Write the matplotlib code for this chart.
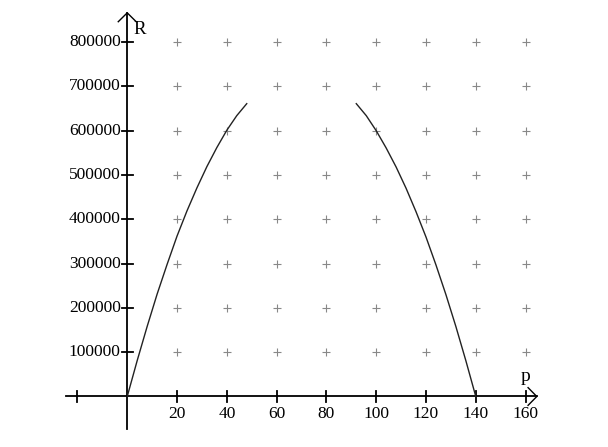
import numpy as np
import matplotlib
matplotlib.use("Agg")
import matplotlib.pyplot as plt

# curve R(p) (two visible branches)
p_left = [0, 4, 8, 12, 16, 20, 24, 28, 32, 36, 40, 44, 48]
R_left = [0, 81000, 158000, 231000, 298000, 362000, 419000, 471000,
          519000, 562000, 601000, 634000, 661000]
p_right = [92, 96, 100, 104, 108, 112, 116, 120, 124, 128, 132, 136, 140]
R_right = [661000, 634000, 600000, 561000, 518000, 470000, 417000, 360000,
           297000, 230000, 158000, 81000, 0]

x_ticks = [20, 40, 60, 80, 100, 120, 140, 160]
y_ticks = [100000, 200000, 300000, 400000, 500000, 600000, 700000, 800000]

serif = "Liberation Serif"

fig = plt.figure(figsize=(6.08, 4.47), dpi=100)
ax = fig.add_axes([0, 0, 1, 1])
ax.set_xlim(-51.1, 193.1)
ax.set_ylim(-114000, 895000)
ax.axis("off")

# grid of "+" marks
gx, gy = np.meshgrid(x_ticks, y_ticks)
ax.plot(gx.ravel(), gy.ravel(), linestyle="none", marker="+",
        markersize=5.5, markeredgewidth=0.8, color="#888888")

# axes with open arrowheads
ax.plot([-24.5, 164.5], [0, 0], color="black", lw=1.3)
ax.plot([0, 0], [-74000, 866000], color="black", lw=1.3)
ax.plot([161, 164.5, 161], [-20000, 0, 20000], color="black", lw=1.0)
ax.plot([-3.6, 0, 3.6], [846000, 866000, 846000], color="black", lw=1.0)

# ticks crossing the axes
for x in [-20] + x_ticks:
    ax.plot([x, x], [-12000, 12000], color="black", lw=1.3)
for x in x_ticks:
    ax.text(x, -22000, str(x), ha="center", va="top", fontsize=12.5,
            family=serif)
for y in y_ticks:
    ax.plot([-2.2, 2.2], [y, y], color="black", lw=1.3)
    ax.text(-2.6, y, str(y), ha="right", va="center", fontsize=12.5,
            family=serif)

ax.text(160, 25000, "p", ha="center", va="bottom", fontsize=14, family=serif)
ax.text(2.3, 828000, "R", ha="left", va="center", fontsize=13.5, family=serif)

# revenue curve
ax.plot(p_left, R_left, color="#222222", lw=1.0)
ax.plot(p_right, R_right, color="#222222", lw=1.0)

fig.savefig("out.png", dpi=100)
